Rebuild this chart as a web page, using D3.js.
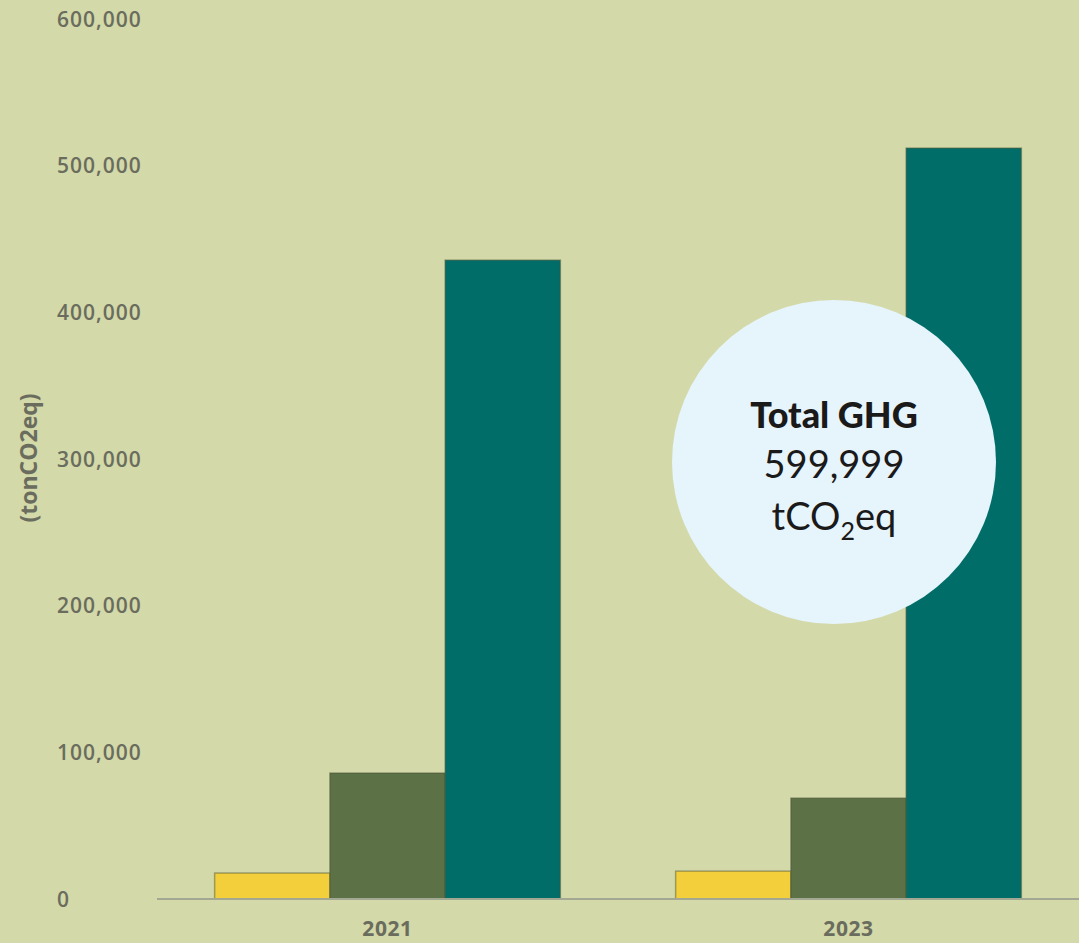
<!DOCTYPE html>
<html>
<head>
<meta charset="utf-8">
<script src="https://cdn.jsdelivr.net/npm/d3@7"></script>
<style>
  html, body { margin: 0; padding: 0; background: #d3d9a8; }
  svg { display: block; }
</style>
</head>
<body>
<script>
const width = 1079;
const height = 943;

// data
const years = ['2021', '2023'];
const series = ['s1', 's2', 's3'];
const s1 = [17700, 19000];
const s2 = [85900, 68800];
const s3 = [435600, 512000];
const yTicks = [0, 100000, 200000, 300000, 400000, 500000, 600000];
const colors = ['#f4cf3c', '#5d7147', '#006d68'];
const totalLabel = ['Total GHG', '599,999'];

const rows = years.map((y, i) => ({ year: y, values: [s1[i], s2[i], s3[i]] }));

const svg = d3.select('body')
  .append('svg')
  .attr('width', width)
  .attr('height', height);

svg.append('rect').attr('width', width).attr('height', height).attr('fill', '#d3d9a8');

const x0 = d3.scaleBand().domain(years).range([157, 1079]).paddingInner(0.25).paddingOuter(0.125);
const x1 = d3.scaleBand().domain(series).range([0, x0.bandwidth()]);
const y = d3.scaleLinear().domain([0, 600000]).range([899, 19]);

// y tick labels, left aligned like the original (no axis line)
svg.append('g')
  .selectAll('text')
  .data(yTicks)
  .join('text')
  .attr('x', 57)
  .attr('y', d => y(d))
  .attr('dy', '0.36em')
  .attr('text-anchor', 'start')
  .attr('font-family', 'Open Sans, sans-serif')
  .attr('font-weight', 600)
  .attr('font-size', 21)
  .attr('letter-spacing', 1)
  .attr('fill', '#6a6c5e')
  .text(d => d3.format(',')(d));

svg.append('text')
  .attr('transform', 'translate(29,' + 458 + ') rotate(-90)')
  .attr('text-anchor', 'middle')
  .attr('dy', '0.35em')
  .attr('font-family', 'Open Sans, sans-serif')
  .attr('font-weight', 700)
  .attr('font-size', 23)
  .attr('fill', '#6a6c5e')
  .text('(tonCO2eq)');

// bars
const groups = svg.append('g')
  .selectAll('g')
  .data(rows)
  .join('g')
  .attr('transform', d => 'translate(' + x0(d.year) + ',0)');

groups.selectAll('rect')
  .data(d => d.values.map((v, i) => ({ key: series[i], v: v, c: colors[i] })))
  .join('rect')
  .attr('x', d => x1(d.key))
  .attr('y', d => y(d.v))
  .attr('width', x1.bandwidth())
  .attr('height', d => y(0) - y(d.v))
  .attr('fill', d => d.c)
  .attr('stroke', 'rgba(70,80,50,0.45)')
  .attr('stroke-width', 1.5);

// baseline
svg.append('line')
  .attr('x1', 157).attr('x2', 1079)
  .attr('y1', y(0)).attr('y2', y(0))
  .attr('stroke', '#a3a892')
  .attr('stroke-width', 2);

// x labels
svg.append('g')
  .selectAll('text')
  .data(years)
  .join('text')
  .attr('x', d => x0(d) + x0.bandwidth() / 2)
  .attr('y', 929)
  .attr('dy', '0.35em')
  .attr('text-anchor', 'middle')
  .attr('font-family', 'Open Sans, sans-serif')
  .attr('font-weight', 700)
  .attr('font-size', 21)
  .attr('letter-spacing', 0.6)
  .attr('fill', '#6a6c5e')
  .text(d => d);

// total bubble
const bubble = svg.append('g').attr('transform', 'translate(834,462)');
bubble.append('circle').attr('r', 162).attr('fill', '#e6f4fc');
bubble.append('text')
  .attr('y', -34)
  .attr('text-anchor', 'middle')
  .attr('font-family', 'Lato, sans-serif')
  .attr('font-weight', 900)
  .attr('font-size', 36)
  .attr('fill', '#1a1a1a')
  .text(totalLabel[0]);
bubble.append('text')
  .attr('y', 16)
  .attr('text-anchor', 'middle')
  .attr('font-family', 'Lato, sans-serif')
  .attr('font-size', 38)
  .attr('fill', '#1a1a1a')
  .text(totalLabel[1]);
const unit = bubble.append('text')
  .attr('y', 68)
  .attr('text-anchor', 'middle')
  .attr('font-family', 'Lato, sans-serif')
  .attr('font-size', 38)
  .attr('fill', '#1a1a1a');
unit.append('tspan').text('tCO');
unit.append('tspan').attr('font-size', 25).attr('dy', 10).text('2');
unit.append('tspan').attr('dy', -10).text('eq');
</script>
</body>
</html>
